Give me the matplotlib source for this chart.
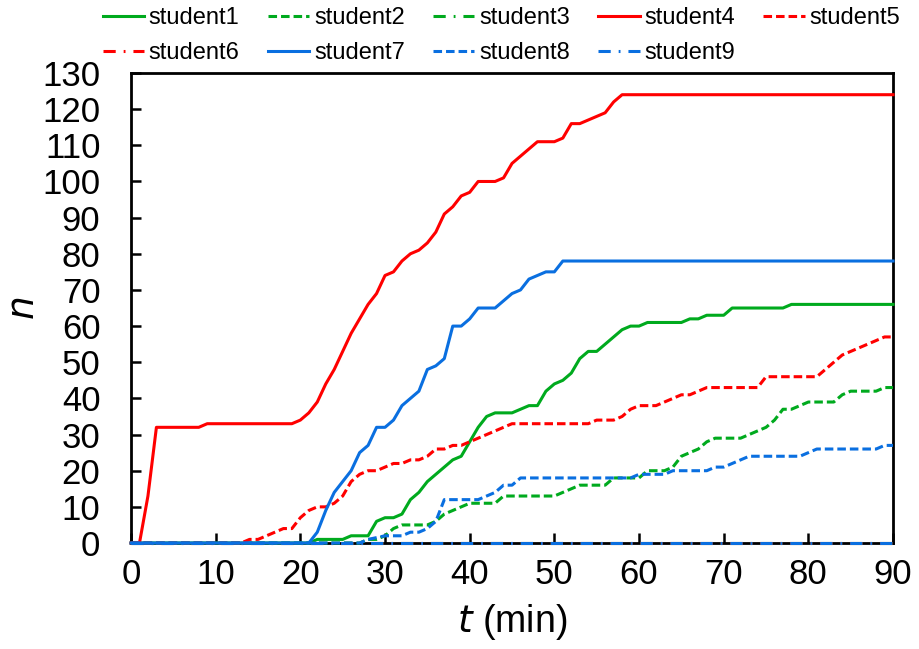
"""Cumulative count n versus time for nine students."""

import matplotlib
matplotlib.use("Agg")
import matplotlib.pyplot as plt

GREEN = "#00aa1e"
RED = "#ff0000"
BLUE = "#0a6fe0"

student1_t = [0, 21, 22, 25, 26, 28, 29, 30, 31, 32, 33, 34, 35, 36, 37, 38, 39, 40, 41, 42, 43, 45,
              46, 47, 48, 49, 50, 51, 52, 53, 54, 55, 56, 57, 58, 59, 60, 61, 65, 66, 67, 68, 70, 71,
              77, 78, 90]
student1_n = [0, 0, 1, 1, 2, 2, 6, 7, 7, 8, 12, 14, 17, 19, 21, 23, 24, 28, 32, 35, 36, 36,
              37, 38, 38, 42, 44, 45, 47, 51, 53, 53, 55, 57, 59, 60, 60, 61, 61, 62, 62, 63, 63, 65,
              65, 66, 66]

student2_t = [0, 27, 28, 29, 30, 31, 32, 35, 36, 37, 38, 39, 40, 43, 44, 50, 51, 52, 53, 56, 57, 60,
              61, 63, 64, 65, 66, 67, 68, 69, 72, 73, 74, 75, 76, 77, 78, 79, 80, 83, 84, 85, 88, 89, 90]
student2_n = [0, 0, 1, 1, 2, 4, 5, 5, 6, 8, 9, 10, 11, 11, 13, 13, 14, 15, 16, 16, 18, 18,
              20, 20, 21, 24, 25, 26, 28, 29, 29, 30, 31, 32, 34, 37, 37, 38, 39, 39, 41, 42, 42, 43, 43]

student3_t = [0, 90]
student3_n = [0, 0]

student4_t = [0, 1, 2, 3, 8, 9, 19, 20, 21, 22, 23, 24, 25, 26, 27, 28, 29, 30, 31, 32, 33, 34, 35,
              36, 37, 38, 39, 40, 41, 42, 43, 44, 45, 46, 47, 48, 49, 50, 51, 52, 53, 54, 55, 56, 57,
              58, 90]
student4_n = [0, 0, 13, 32, 32, 33, 33, 34, 36, 39, 44, 48, 53, 58, 62, 66, 69, 74, 75, 78, 80, 81, 83,
              86, 91, 93, 96, 97, 100, 100, 100, 101, 105, 107, 109, 111, 111, 111, 112, 116, 116, 117,
              118, 119, 122, 124, 124]

student5_t = [0, 13, 14, 15, 16, 17, 18, 19, 20, 21, 22, 23, 24, 25, 26, 27, 28, 29, 30, 31, 32, 33,
              34, 35, 36, 37, 38, 39, 40, 41, 42, 43, 44, 45, 54, 55, 57, 58, 59, 60, 62, 63, 64, 65,
              66, 67, 68, 74, 75, 81, 82, 83, 84, 85, 86, 87, 88, 89, 90]
student5_n = [0, 0, 1, 1, 2, 3, 4, 4, 7, 9, 10, 10, 11, 13, 17, 19, 20, 20, 21, 22, 22, 23,
              23, 24, 26, 26, 27, 27, 28, 29, 30, 31, 32, 33, 33, 34, 34, 35, 37, 38, 38, 39, 40, 41,
              41, 42, 43, 43, 46, 46, 48, 50, 52, 53, 54, 55, 56, 57, 57]

student6_t = [0, 90]
student6_n = [0, 0]

student7_t = [0, 21, 22, 23, 24, 25, 26, 27, 28, 29, 30, 31, 32, 33, 34, 35, 36, 37, 38, 39, 40, 41,
              42, 43, 44, 45, 46, 47, 48, 49, 50, 51, 90]
student7_n = [0, 0, 3, 9, 14, 17, 20, 25, 27, 32, 32, 34, 38, 40, 42, 48, 49, 51, 60, 60, 62, 65,
              65, 65, 67, 69, 70, 73, 74, 75, 75, 78, 78]

student8_t = [0, 27, 28, 30, 32, 33, 34, 35, 36, 37, 41, 42, 43, 44, 45, 46, 59, 60, 63, 64, 68, 69,
              70, 71, 72, 73, 79, 80, 81, 87, 88, 89, 90]
student8_n = [0, 0, 1, 2, 2, 3, 3, 4, 6, 12, 12, 13, 14, 16, 16, 18, 18, 19, 19, 20, 20, 21,
              21, 22, 23, 24, 24, 25, 26, 26, 26, 27, 27]

student9_t = [0, 90]
student9_n = [0, 0]

SOLID = (None, None)
DASH = (2.8, 1.3)
DASH_DOT = (4.0, 2.6, 0.6, 2.6)

series = [
    ("student1", student1_t, student1_n, GREEN, SOLID),
    ("student2", student2_t, student2_n, GREEN, DASH),
    ("student3", student3_t, student3_n, GREEN, DASH_DOT),
    ("student4", student4_t, student4_n, RED, SOLID),
    ("student5", student5_t, student5_n, RED, DASH),
    ("student6", student6_t, student6_n, RED, DASH_DOT),
    ("student7", student7_t, student7_n, BLUE, SOLID),
    ("student8", student8_t, student8_n, BLUE, DASH),
    ("student9", student9_t, student9_n, BLUE, DASH_DOT),
]

plt.rcParams["font.family"] = ["Liberation Sans", "DejaVu Sans"]

fig = plt.figure(figsize=(9.2, 6.49), dpi=100, facecolor="white")
ax = fig.add_axes([0.1424, 0.1633, 0.8283, 0.7242])

handles = []
for label, t, n, color, dashes in series:
    (line,) = ax.plot(t, n, color=color, linewidth=2.2, label=label,
                      clip_on=False, zorder=3, solid_joinstyle="round")
    if dashes[0] is not None:
        line.set_dashes(dashes)
    handles.append(line)

ax.set_xlim(0, 90)
ax.set_ylim(0, 130)
ax.set_xticks(range(0, 91, 10))
ax.set_yticks(range(0, 131, 10))
ax.tick_params(direction="in", length=7, width=1.8, labelsize=25,
               top=False, right=False)
ax.tick_params(axis="y", pad=22)
ax.tick_params(axis="x", pad=11)
for spine in ax.spines.values():
    spine.set_linewidth(2.0)
    spine.set_color("black")

ax.set_xlabel("$t$ (min)", fontsize=27, labelpad=8)
ax.set_ylabel("$n$", fontsize=27)
ax.yaxis.set_label_coords(-0.117, 0.5)

# legend fills by column, so interleave to read row by row
order = [0, 5, 1, 6, 2, 7, 3, 8, 4]
legend = fig.legend([handles[i] for i in order], [series[i][0] for i in order],
                    ncol=5, loc="upper center", bbox_to_anchor=(0.545, 1.022),
                    frameon=False, handlelength=1.75, columnspacing=1.2,
                    handletextpad=0.2, labelspacing=0.55,
                    prop={"family": ["Liberation Sans", "DejaVu Sans"], "size": 17})

fig.savefig("out.png", dpi=100, facecolor="white")
